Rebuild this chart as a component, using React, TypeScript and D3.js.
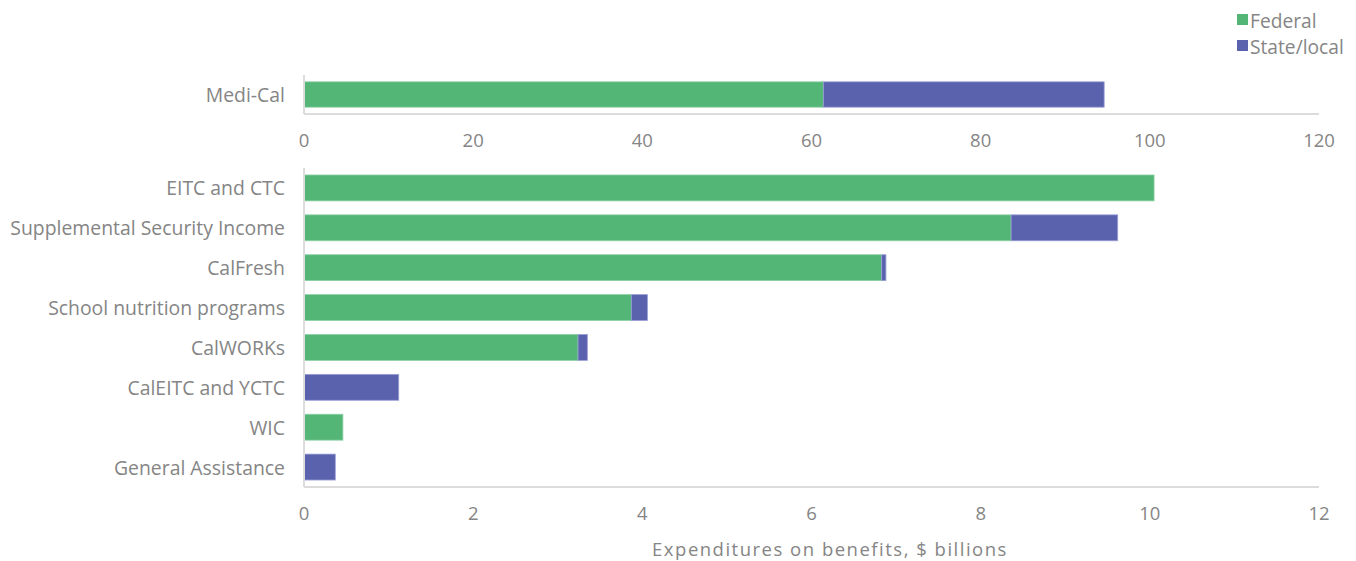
import React from "react";
import * as d3 from "d3";

const topCategories = ["Medi-Cal"];
const topFederal = [61.4];
const topState = [33.2];
const topTicks = [0, 20, 40, 60, 80, 100, 120];

const categories = [
  "EITC and CTC",
  "Supplemental Security Income",
  "CalFresh",
  "School nutrition programs",
  "CalWORKs",
  "CalEITC and YCTC",
  "WIC",
  "General Assistance",
];
const federal = [10.05, 8.36, 6.83, 3.87, 3.24, 0, 0.46, 0];
const stateLocal = [0, 1.26, 0.05, 0.19, 0.11, 1.12, 0, 0.37];
const bottomTicks = [0, 2, 4, 6, 8, 10, 12];

const seriesNames = ["Federal", "State/local"];
const colors = ["#53b677", "#5b62ad"];
const strokes = ["#8fd1a6", "#9a9fd6"];
const axisTitle = "Expenditures on benefits, $ billions";

const W = 1356;
const H = 561;
const left = 304;
const right = 1319;
const font = "'Open Sans', Lato, sans-serif";
const textColor = "#858585";
const axisColor = "#dcdcdc";

function Panel({
  cats,
  fed,
  st,
  max,
  ticks,
  y0,
  y1,
}: {
  cats: string[];
  fed: number[];
  st: number[];
  max: number;
  ticks: number[];
  y0: number;
  y1: number;
}) {
  const x = d3.scaleLinear().domain([0, max]).range([left, right]);
  const y = d3
    .scaleBand<string>()
    .domain(cats)
    .range([y0, y1])
    .paddingInner(0.35)
    .paddingOuter(0.175);
  const bw = y.bandwidth();
  return (
    <g>
      {cats.map((c, i) => {
        const yy = y(c)!;
        const segs = [
          { v0: 0, v1: fed[i], k: 0 },
          { v0: fed[i], v1: fed[i] + st[i], k: 1 },
        ];
        return (
          <g key={c}>
            {segs
              .filter((s) => s.v1 - s.v0 > 0)
              .map((s) => (
                <rect
                  key={s.k}
                  x={x(s.v0)}
                  y={yy}
                  width={x(s.v1) - x(s.v0)}
                  height={bw}
                  fill={colors[s.k]}
                  stroke={strokes[s.k]}
                  strokeWidth={0.8}
                />
              ))}
            <text
              x={285}
              y={yy + bw / 2}
              textAnchor="end"
              dominantBaseline="central"
              fontSize={19.4}
              fill={textColor}
              fontFamily={font}
            >
              {c}
            </text>
          </g>
        );
      })}
      <line x1={left} x2={right} y1={y1} y2={y1} stroke={axisColor} strokeWidth={2} />
      <line x1={left} x2={left} y1={y0} y2={y1} stroke={axisColor} strokeWidth={2} />
      {ticks.map((t) => (
        <text
          key={t}
          x={x(t)}
          y={y1 + 25}
          textAnchor="middle"
          dominantBaseline="central"
          fontSize={18.5}
          fill={textColor}
          fontFamily={font}
        >
          {t}
        </text>
      ))}
    </g>
  );
}

export default function App() {
  return (
    <svg width={W} height={H} style={{ position: "absolute", left: 0, top: 0 }}>
      <rect width={W} height={H} fill="#fff" />
      <Panel cats={topCategories} fed={topFederal} st={topState} max={120} ticks={topTicks} y0={75} y1={114} />
      <Panel cats={categories} fed={federal} st={stateLocal} max={12} ticks={bottomTicks} y0={168} y1={487} />
      <text
        x={830}
        y={548}
        textAnchor="middle"
        dominantBaseline="central"
        fontSize={18.5}
        fill={textColor}
        fontFamily={font}
        letterSpacing={1.5}
      >
        {axisTitle}
      </text>
      {seriesNames.map((s, i) => (
        <g key={s}>
          <rect x={1237} y={14 + i * 26} width={11} height={11} fill={colors[i]} />
          <text
            x={1250}
            y={20 + i * 26}
            dominantBaseline="central"
            fontSize={19.2}
            fill={textColor}
            fontFamily={font}
          >
            {s}
          </text>
        </g>
      ))}
    </svg>
  );
}
